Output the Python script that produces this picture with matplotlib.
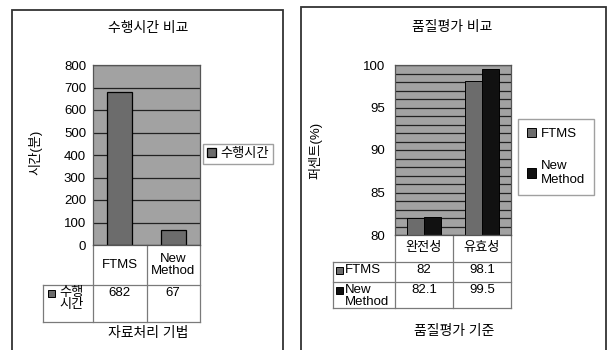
import matplotlib
matplotlib.use("Agg")
import matplotlib.pyplot as plt
from matplotlib.patches import Rectangle
from matplotlib.transforms import blended_transform_factory

plt.rcParams['font.family'] = ['Liberation Sans', 'Noto Sans CJK KR']

W, H = 609, 350

# 수행시간 비교
time_categories = ['FTMS', 'New\nMethod']
time_values = [682, 67]
time_series = '수행시간'
time_row_label = '수행\n시간'
time_ticks = [0, 100, 200, 300, 400, 500, 600, 700, 800]

# 품질평가 비교
quality_categories = ['완전성', '유효성']
quality_ftms = [82, 98.1]
quality_new = [82.1, 99.5]
quality_series = ['FTMS', 'New\nMethod']
quality_ticks = [80, 85, 90, 95, 100]

PLOT_BG = '#a2a2a2'
GRAY_BAR = '#6c6c6c'
BLACK_BAR = '#111111'
LINE_C = '#7a7a7a'
FS = 9.5
TITLE_FS = 10


def px_axes(fig, x0, y0, x1, y1):
    return fig.add_axes([x0 / W, 1 - y1 / H, (x1 - x0) / W, (y1 - y0) / H])


def style_plot(ax, ymin, ymax, ticks):
    ax.set_facecolor(PLOT_BG)
    ax.set_ylim(ymin, ymax)
    ax.set_yticks(ticks)
    ax.set_xticks([])
    ax.tick_params(axis='y', length=0, pad=5, labelsize=FS)
    for s in ax.spines.values():
        s.set_color('#555555')
        s.set_linewidth(0.9)
    ax.set_axisbelow(True)


def data_table(ax, cats, rows, labels, colors, row_px, head_px, text_off, marker_off):
    """Excel 스타일 데이터 표: 범주 행 + 계열 행"""
    tr = blended_transform_factory(ax.transData, ax.transAxes)
    pos = ax.get_position()
    ax_h = pos.height * H
    n = len(cats)
    unit_px = pos.width * W / n
    left = -0.5 - head_px / unit_px
    ys = [0.0]
    for h in row_px:
        ys.append(ys[-1] - h / ax_h)
    kw = dict(color=LINE_C, lw=0.9, transform=tr, clip_on=False)
    for i in range(n + 1):
        ax.plot([i - 0.5, i - 0.5], [0, ys[-1]], **kw)
    ax.plot([left, left], [ys[1], ys[-1]], **kw)
    for y in ys[1:]:
        ax.plot([left, n - 0.5], [y, y], **kw)
    for i, c in enumerate(cats):
        ax.text(i, (ys[0] + ys[1]) / 2, c, ha='center', va='center',
                fontsize=FS, transform=tr, linespacing=1.1)
    sq = 7
    for r, (vals, lab, col) in enumerate(zip(rows, labels, colors)):
        ytop = ys[r + 1]
        ax.add_patch(Rectangle((left + marker_off / unit_px, ytop - 5 / ax_h - sq / ax_h),
                               sq / unit_px, sq / ax_h, facecolor=col, edgecolor='black',
                               lw=0.7, transform=tr, clip_on=False))
        ax.text(left + text_off / unit_px, ytop - 2 / ax_h, lab, ha='left', va='top',
                fontsize=FS, transform=tr, linespacing=1.05)
        for i, v in enumerate(vals):
            ax.text(i, ytop - 2 / ax_h, f'{v:g}', ha='center', va='top',
                    fontsize=FS, transform=tr)


fig = plt.figure(figsize=(W / 100, H / 100), dpi=100)

# 패널 테두리
for x0, y0, x1 in [(12, 10, 283), (301, 7, 606)]:
    fig.patches.append(Rectangle((x0 / W, -0.05), (x1 - x0) / W, 1 - y0 / H + 0.05,
                                 transform=fig.transFigure, fill=False,
                                 edgecolor='#333333', lw=1.3))

# ---- 수행시간 비교 ----
ax1 = px_axes(fig, 93, 65, 200, 245)
style_plot(ax1, 0, 800, time_ticks)
ax1.set_xlim(-0.5, len(time_categories) - 0.5)
ax1.yaxis.grid(True, color='#222222', lw=0.9)
bars1 = ax1.bar(range(len(time_values)), time_values, width=0.46,
                color=GRAY_BAR, edgecolor='black', lw=0.9, label=time_series)
data_table(ax1, time_categories, [time_values], [time_row_label], [GRAY_BAR],
           row_px=[40, 37], head_px=50, text_off=16, marker_off=5)
fig.text(148 / W, 1 - 28 / H, '수행시간 비교', ha='center', va='center', fontsize=TITLE_FS)
fig.text(35 / W, 1 - 152 / H, '시간(분)', ha='center', va='center', rotation=90, fontsize=FS)
fig.text(148 / W, 1 - 333 / H, '자료처리 기법', ha='center', va='center', fontsize=TITLE_FS)
fig.legend(handles=[bars1], loc='upper left', bbox_to_anchor=(203 / W, 1 - 144 / H),
           frameon=True, fancybox=False, edgecolor='#888888', fontsize=FS,
           handlelength=0.7, handleheight=0.7, handletextpad=0.3, borderpad=0.3,
           borderaxespad=0)

# ---- 품질평가 비교 ----
ax2 = px_axes(fig, 395, 65, 511, 235)
style_plot(ax2, 80, 100, quality_ticks)
ax2.tick_params(axis='y', pad=7)
ax2.set_xlim(-0.5, len(quality_categories) - 0.5)
ax2.set_yticks(range(81, 100), minor=True)
ax2.tick_params(axis='y', which='minor', length=0)
ax2.yaxis.grid(True, which='both', color='#222222', lw=0.9)
w = 0.29
xs = list(range(len(quality_categories)))
b_ftms = ax2.bar([x - w / 2 for x in xs], quality_ftms, width=w, color=GRAY_BAR,
                 edgecolor='black', lw=0.7, label=quality_series[0])
b_new = ax2.bar([x + w / 2 for x in xs], quality_new, width=w, color=BLACK_BAR,
                edgecolor='black', lw=0.7, label=quality_series[1])
data_table(ax2, quality_categories, [quality_ftms, quality_new], quality_series,
           [GRAY_BAR, BLACK_BAR], row_px=[27, 20, 26], head_px=62, text_off=12, marker_off=3)
fig.text(452 / W, 1 - 27 / H, '품질평가 비교', ha='center', va='center', fontsize=TITLE_FS)
fig.text(315 / W, 1 - 150 / H, '퍼센트(%)', ha='center', va='center', rotation=90, fontsize=FS)
fig.text(454 / W, 1 - 331 / H, '품질평가 기준', ha='center', va='center', fontsize=TITLE_FS)
fig.legend(handles=[b_ftms, b_new], loc='upper left', bbox_to_anchor=(518 / W, 1 - 119 / H),
           frameon=True, fancybox=False, edgecolor='#888888', fontsize=FS,
           handlelength=0.7, handleheight=0.7, handletextpad=0.3, borderpad=0.7,
           labelspacing=1.5, borderaxespad=0)

fig.savefig('out.png', dpi=100, facecolor='white')
